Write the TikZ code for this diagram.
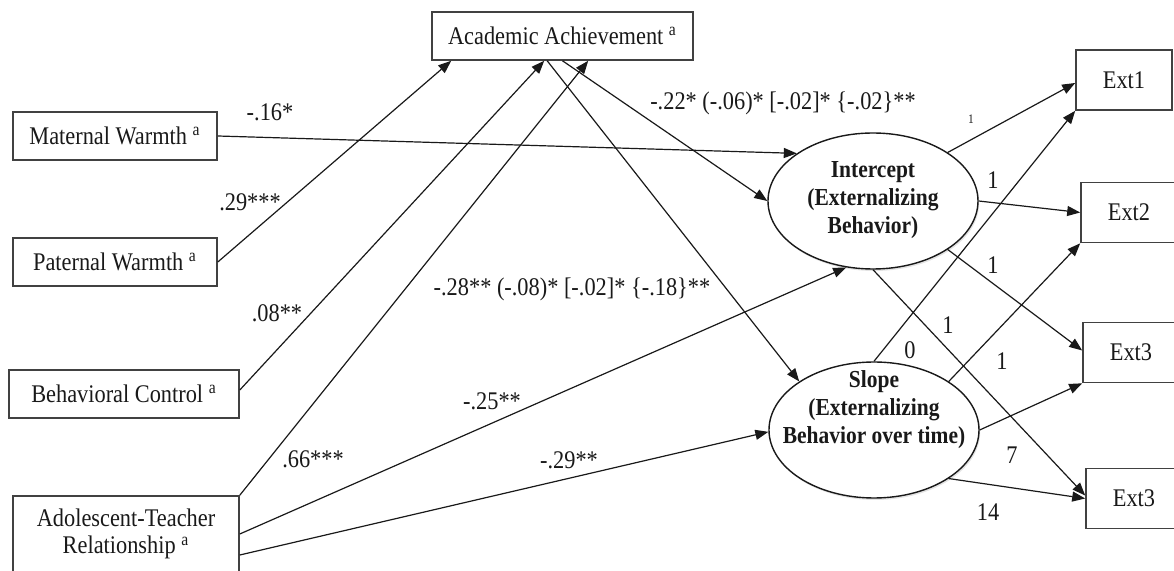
\documentclass[tikz,border=0pt]{standalone}
\usepackage{fontspec}
\setmainfont[FakeStretch=0.88]{Liberation Serif}
\usetikzlibrary{arrows.meta,shapes.geometric,shadows}
\definecolor{pathgray}{RGB}{25,25,25}
\definecolor{boxgray}{RGB}{65,65,65}

\begin{document}
\begin{tikzpicture}[x=0.5pt, y=-0.5pt,
    obs/.style={draw=boxgray, line width=0.8pt, rectangle, minimum height=24pt, inner sep=0pt, text=pathgray, font=\fontsize{12.7}{13.5}\selectfont},
    latent/.style={draw=pathgray, line width=0.7pt, ellipse, fill=white, minimum width=105pt, minimum height=68pt, inner sep=0pt, drop shadow={shadow xshift=0.6pt, shadow yshift=-1pt, opacity=0.22}},
    lattext/.style={align=center, text=pathgray, font=\bfseries\fontsize{12.2}{14}\selectfont},
    effect/.style={-{Triangle[length=6.5pt,width=5pt]}, line width=0.6pt, pathgray},
    coef/.style={text=pathgray, inner sep=0pt, font=\fontsize{12.7}{13.5}\selectfont}]
    \useasboundingbox (0,0) rectangle (1174,571);
    \clip (0,0) rectangle (1174,571);
    % Predictors
    \node[obs, minimum width=102pt] (mat) at (115,136) {Maternal Warmth \textsuperscript{a}};
    \node[obs, minimum width=102pt] (pat) at (115,262) {Paternal Warmth \textsuperscript{a}};
    \node[obs, minimum width=115pt] (beh) at (124,394) {Behavioral Control \textsuperscript{a}};
    \node[obs, minimum width=113pt, minimum height=49pt, align=center] (teach) at (126,545) {Adolescent-Teacher\\Relationship \textsuperscript{a}\\ \mbox{}};
    % Mediator
    \node[obs, minimum width=130.5pt] (acad) at (562.5,36) {Academic Achievement \textsuperscript{a}};
    % Growth factors
    \node[latent] (icpt) at (873,201) {};
    \node[lattext] (icpttxt) at (873,200) {Intercept\\(Externalizing\\Behavior)};
    \node[latent] (slope) at (874,430) {};
    \node[lattext] (slopetxt) at (874,410) {Slope\\(Externalizing\\Behavior over time)};
    % Indicators
    \node[obs, minimum width=48pt, minimum height=30pt] (ext1) at (1124,80) {Ext1};
    \node[obs, minimum width=48pt, minimum height=30pt] (ext2) at (1129,212.5) {Ext2};
    \node[obs, minimum width=48pt, minimum height=30pt] (ext3) at (1131,352.5) {Ext3};
    \node[obs, minimum width=48pt, minimum height=30pt] (ext4) at (1134,498.5) {Ext3};

    % Paths to academic achievement
    \draw[effect] (pat.east) -- ([xshift=10pt]acad.south west);
    \draw[effect] ([yshift=2pt]beh.east) -- ([xshift=56.5pt]acad.south west);
    \draw[effect] (teach.north east) -- ([xshift=78.5pt]acad.south west);
    % Direct paths to growth factors
    \draw[effect] (mat.east) -- (icpt.148);
    \draw[effect] ([yshift=5.5pt]teach.east) -- (icpt.248);
    \draw[effect] ([yshift=-5pt]teach.east) -- (slope.181);
    % Academic achievement to growth factors
    \draw[effect] (acad.south) -- (icpt.180);
    \draw[effect] ([xshift=58pt]acad.south west) -- (slope.147);
    % Loadings of the intercept
    \draw[effect] (icpt.33) -- ([yshift=-1.5pt]ext1.west);
    \draw[effect] (icpt.0) -- (ext2.west);
    \draw[effect] (icpt.-33) -- ([yshift=1pt]ext3.west);
    \draw[effect] (icpt.-90) -- ([yshift=1.5pt]ext4.west);
    % Loadings of the slope
    \draw[effect] (slope.90) -- (ext1.south west);
    \draw[effect] (slope.33) -- (ext2.south west);
    \draw[effect] (slope.0) -- (ext3.south west);
    \draw[effect] (slope.-33) -- (ext4.west);

    % Coefficients
    \node[coef] (cmat) at (270,112) {-.16*};
    \node[coef] (cpat) at (250,202) {.29***};
    \node[coef] (cbeh) at (277,313) {.08**};
    \node[coef] (cteach) at (313,459) {.66***};
    \node[coef] (cicpt) at (492,401) {-.25**};
    \node[coef] (cslope) at (569,460) {-.29**};
    \node[coef] (cacadi) at (783,103) {-.22* (-.06)* [-.02]* \{-.02\}**};
    \node[coef] (cacads) at (572,289) {-.28** (-.08)* [-.02]* \{-.18\}**};
    % Loadings
    \node[coef, font=\fontsize{6.5}{7}\selectfont] (li1) at (971,119) {1};
    \node[coef] (li2) at (993,180) {1};
    \node[coef] (li3) at (993,265) {1};
    \node[coef] (li4) at (948,325) {1};
    \node[coef] (ls1) at (910,350) {0};
    \node[coef] (ls2) at (1002,361) {1};
    \node[coef] (ls3) at (1012,455) {7};
    \node[coef] (ls4) at (988,512) {14};
\end{tikzpicture}
\end{document}
